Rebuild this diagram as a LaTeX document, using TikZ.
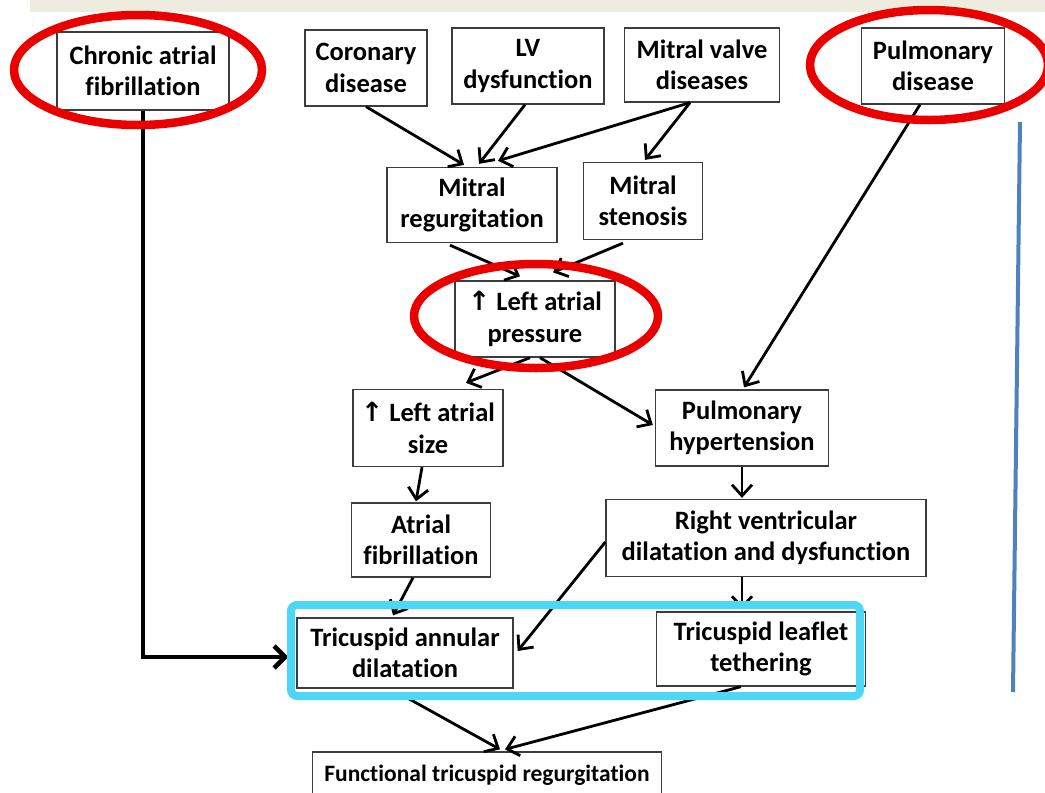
\documentclass[tikz,border=0pt]{standalone}
\usepackage{fontspec}
\setmainfont{Carlito}[Ligatures=NoCommon]
\newfontfamily\symfont{DejaVu Sans}
\usetikzlibrary{arrows.meta,calc}
\definecolor{band}{RGB}{238,236,222}
\definecolor{ringred}{RGB}{235,0,0}
\definecolor{cyanbox}{RGB}{77,215,245}
\definecolor{blueline}{RGB}{79,129,189}
\definecolor{boxline}{RGB}{60,60,60}
\newcommand{\uparr}{{\symfont\bfseries ↑}}
\begin{document}
\begin{tikzpicture}[x=1pt,y=-1pt,
  box/.style={draw=boxline, line width=1.3pt, fill=white, align=center, inner sep=0pt,
    font=\fontsize{26.5}{31.5}\selectfont\bfseries},
  conn/.style={line width=2.8pt, -{Straight Barb[length=11pt,width=20pt]}},
  ring/.style={draw=ringred, line width=8.5pt},
]
\useasboundingbox (0,0) rectangle (1045,793);
\fill[white] (0,0) rectangle (1045,793);
\fill[band] (30,0) rectangle (1045,12);

% boxes
\node[box, minimum width=172, minimum height=78] (cafib) at (143,71) {Chronic atrial\\fibrillation};
\node[box, minimum width=122, minimum height=76] (coron) at (366,68) {Coronary\\disease};
\node[box, minimum width=152, minimum height=76] (lv) at (528,66) {LV\\dysfunction};
\node[box, minimum width=155, minimum height=74] (mvd) at (702,65) {Mitral valve\\diseases};
\node[box, minimum width=143, minimum height=76] (pulm) at (933,66) {Pulmonary\\disease};
\node[box, minimum width=170, minimum height=75] (mr) at (472,205) {Mitral\\regurgitation};
\node[box, minimum width=119, minimum height=77] (ms) at (643,201) {Mitral\\stenosis};
\node[box, minimum width=160, minimum height=76] (lap) at (535,319) {\uparr\ Left atrial\\pressure};
\node[box, minimum width=150, minimum height=77] (las) at (428,428) {\uparr\ Left atrial\\size};
\node[box, minimum width=173, minimum height=76] (ph) at (742,428) {Pulmonary\\hypertension};
\node[box, minimum width=139, minimum height=74] (af) at (421,540) {Atrial\\fibrillation};
\node[box, minimum width=320, minimum height=77] (rv) at (766,538) {Right ventricular\\dilatation and dysfunction};
\node[box, minimum width=216, minimum height=70] (tad) at (405,653) {Tricuspid annular\\dilatation};
\node[box, minimum width=209, minimum height=74] (tlt) at (761,649) {Tricuspid leaflet\\tethering};
\node[box, minimum width=349, minimum height=46, font=\fontsize{23.5}{28}\selectfont\bfseries] (ftr) at (487,775) {Functional tricuspid regurgitation};

% connectors
\draw[conn] (coron.south) -- ($(mr.north)+(-8,-2)$);
\draw[conn] ($(lv.south)+(-3,0)$) -- ($(mr.north)+(7,-3)$);
\draw[conn] ($(mvd.south)+(-12,0)$) -- ($(mr.north)+(26,-6)$);
\draw[conn] ($(mvd.south)+(-12,0)$) -- ($(ms.north)+(2,-2)$);
\draw[conn] ($(pulm.south)+(-13,0)$) -- ($(ph.north)+(2,-2)$);
\draw[conn] ($(mr.south)+(-22,2)$) -- ($(lap.north)+(-15,-4)$);
\draw[conn] ($(ms.south)+(-20,3)$) -- ($(lap.north)+(18,-8)$);
\draw[conn] ($(lap.south)+(-5,0)$) -- ($(las.north)+(38,-6)$);
\draw[conn] ($(lap.south)+(5,0)$) -- ($(ph.west)+(-2,-3)$);
\draw[conn] ($(las.south)+(-6,0)$) -- ($(af.north)+(-5,-1)$);
\draw[conn] (ph.south) -- ($(rv.north)+(-24,-1)$);
\draw[conn] ($(af.south)+(-8,0)$) -- ($(tad.north)+(-12,-2)$);
\draw[conn] ($(rv.west)+(0,4)$) -- ($(tad.east)+(4,-2)$);
\draw[conn] ($(rv.south)+(-24,0)$) -- ($(tlt.north)+(-19,-2)$);
\draw[conn] ($(tad.south)+(0,8)$) -- ($(ftr.north)+(13,-2)$);
\draw[conn] ($(tlt.south)+(-20,0)$) -- ($(ftr.north)+(18,-2)$);
\draw[line width=4.5pt, -{Straight Barb[length=11pt,width=22pt]}] (cafib.south) |- ($(tad.west)+(-8,4)$);

% highlight rings
\draw[ring] (138,70) ellipse [x radius=124, y radius=55];
\draw[ring] (929,65) ellipse [x radius=119, y radius=55];
\draw[ring] (536,316) ellipse [x radius=122, y radius=52];
\draw[draw=cyanbox, line width=8pt, rounded corners=6pt] (291,605) rectangle (860,696);
\draw[blueline, line width=4pt] (1020,122) -- (1013,692);
\end{tikzpicture}
\end{document}
